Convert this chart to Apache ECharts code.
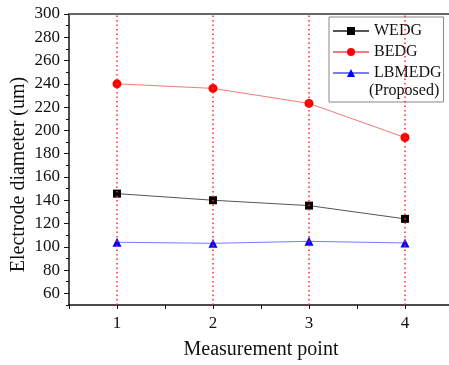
<!DOCTYPE html>
<html>
<head>
<meta charset="utf-8">
<script src="https://cdn.jsdelivr.net/npm/echarts@6/dist/echarts.min.js"></script>
<style>
  html, body { margin: 0; padding: 0; background: #fff; }
  #chart { width: 449px; height: 365px; }
</style>
</head>
<body>
<div id="chart"></div>
<script>
const points = [1, 2, 3, 4];
const wedg = [145.7, 140, 135.4, 124];
const bedg = [240, 236.1, 223.2, 193.9];
const lbmedg = [103.9, 103, 104.7, 103.3];

const yLabelTicks = [60, 80, 100, 120, 140, 160, 180, 200, 220, 240, 260, 280, 300];
const yMinorTicks = [50, 70, 90, 110, 130, 150, 170, 190, 210, 230, 250, 270, 290];
const xTicks = [0.5, 1, 1.5, 2, 2.5, 3, 3.5, 4, 4.5];

const FONT = "'Liberation Serif','Times New Roman',serif";
const GUIDE_RED = "#ff2a2a";

const pair = (vals) => points.map((p, i) => [p, vals[i]]);

const chart = echarts.init(document.getElementById("chart"), null, { renderer: "canvas" });

chart.setOption({
  animation: false,
  backgroundColor: "#fff",
  textStyle: { fontFamily: FONT },
  grid: { left: 69, right: -4, top: 14, bottom: 60, outerBoundsMode: "none", containLabel: false },
  xAxis: [
    {
      type: "value",
      min: 0.5,
      max: 4.5,
      name: "Measurement point",
      nameLocation: "middle",
      nameGap: 35,
      nameMoveOverlap: false,
      nameTextStyle: { fontFamily: FONT, fontSize: 20, color: "#111" },
      axisLine: { show: true, lineStyle: { color: "#111", width: 1.5 } },
      axisTick: { show: true, length: 4, customValues: xTicks, lineStyle: { color: "#111" } },
      axisLabel: { customValues: points, margin: 10, fontFamily: FONT, fontSize: 17, color: "#111" },
      splitLine: { show: false },
    },
    {
      type: "value",
      position: "top",
      min: 0.5,
      max: 4.5,
      axisLine: { show: true, lineStyle: { color: "#666", width: 2 } },
      axisTick: { show: false },
      axisLabel: { show: false },
      splitLine: { show: false },
    },
  ],
  yAxis: [
    {
      type: "value",
      min: 50,
      max: 300,
      name: "Electrode diameter (um)",
      nameLocation: "middle",
      nameGap: 40,
      nameMoveOverlap: false,
      nameTextStyle: { fontFamily: FONT, fontSize: 20, color: "#111", padding: [0, 0, 0, -30] },
      axisLine: { show: true, lineStyle: { color: "#111", width: 1.5 } },
      axisTick: { show: true, length: 5, customValues: yLabelTicks, lineStyle: { color: "#111" } },
      axisLabel: { customValues: yLabelTicks, margin: 9, fontFamily: FONT, fontSize: 17, color: "#111" },
      splitLine: { show: false },
    },
    {
      type: "value",
      min: 50,
      max: 300,
      position: "left",
      axisLine: { show: false },
      axisTick: { show: true, length: 3, customValues: yMinorTicks, lineStyle: { color: "#111" } },
      axisLabel: { show: false },
      splitLine: { show: false },
    },
  ],
  legend: {
    orient: "vertical",
    left: 329,
    top: 17,
    padding: [6, 2, 21, 3],
    itemWidth: 36,
    itemHeight: 10,
    itemGap: 5,
    borderColor: "#888",
    borderWidth: 1,
    borderRadius: 0,
    textStyle: { fontFamily: FONT, fontSize: 16, color: "#111" },
    data: ["WEDG", "BEDG", "LBMEDG"],
  },
  graphic: [
    {
      type: "text",
      left: 369,
      top: 83,
      style: { text: "(Proposed)", font: "16px " + FONT, fill: "#111" },
    },
  ],
  series: [
    {
      name: "guides",
      type: "line",
      data: [],
      silent: true,
      markLine: {
        silent: true,
        symbol: "none",
        label: { show: false },
        lineStyle: { color: GUIDE_RED, width: 1.5, type: [1.5, 3], opacity: 1 },
        emphasis: { disabled: true },
        data: points.map((p) => ({ xAxis: p })),
      },
      z: 1,
    },
    {
      name: "WEDG",
      type: "line",
      data: pair(wedg),
      symbol: "rect",
      symbolSize: 8,
      lineStyle: { color: "#555", width: 1 },
      itemStyle: { color: "#000" },
      z: 3,
    },
    {
      name: "BEDG",
      type: "line",
      data: pair(bedg),
      symbol: "circle",
      symbolSize: 9,
      lineStyle: { color: "#f47a7a", width: 1 },
      itemStyle: { color: "#ff0000" },
      z: 3,
    },
    {
      name: "LBMEDG",
      type: "line",
      data: pair(lbmedg),
      symbol: "triangle",
      symbolSize: 9,
      lineStyle: { color: "#7a7aff", width: 1 },
      itemStyle: { color: "#0000ff" },
      z: 3,
    },
  ],
});
</script>
</body>
</html>
